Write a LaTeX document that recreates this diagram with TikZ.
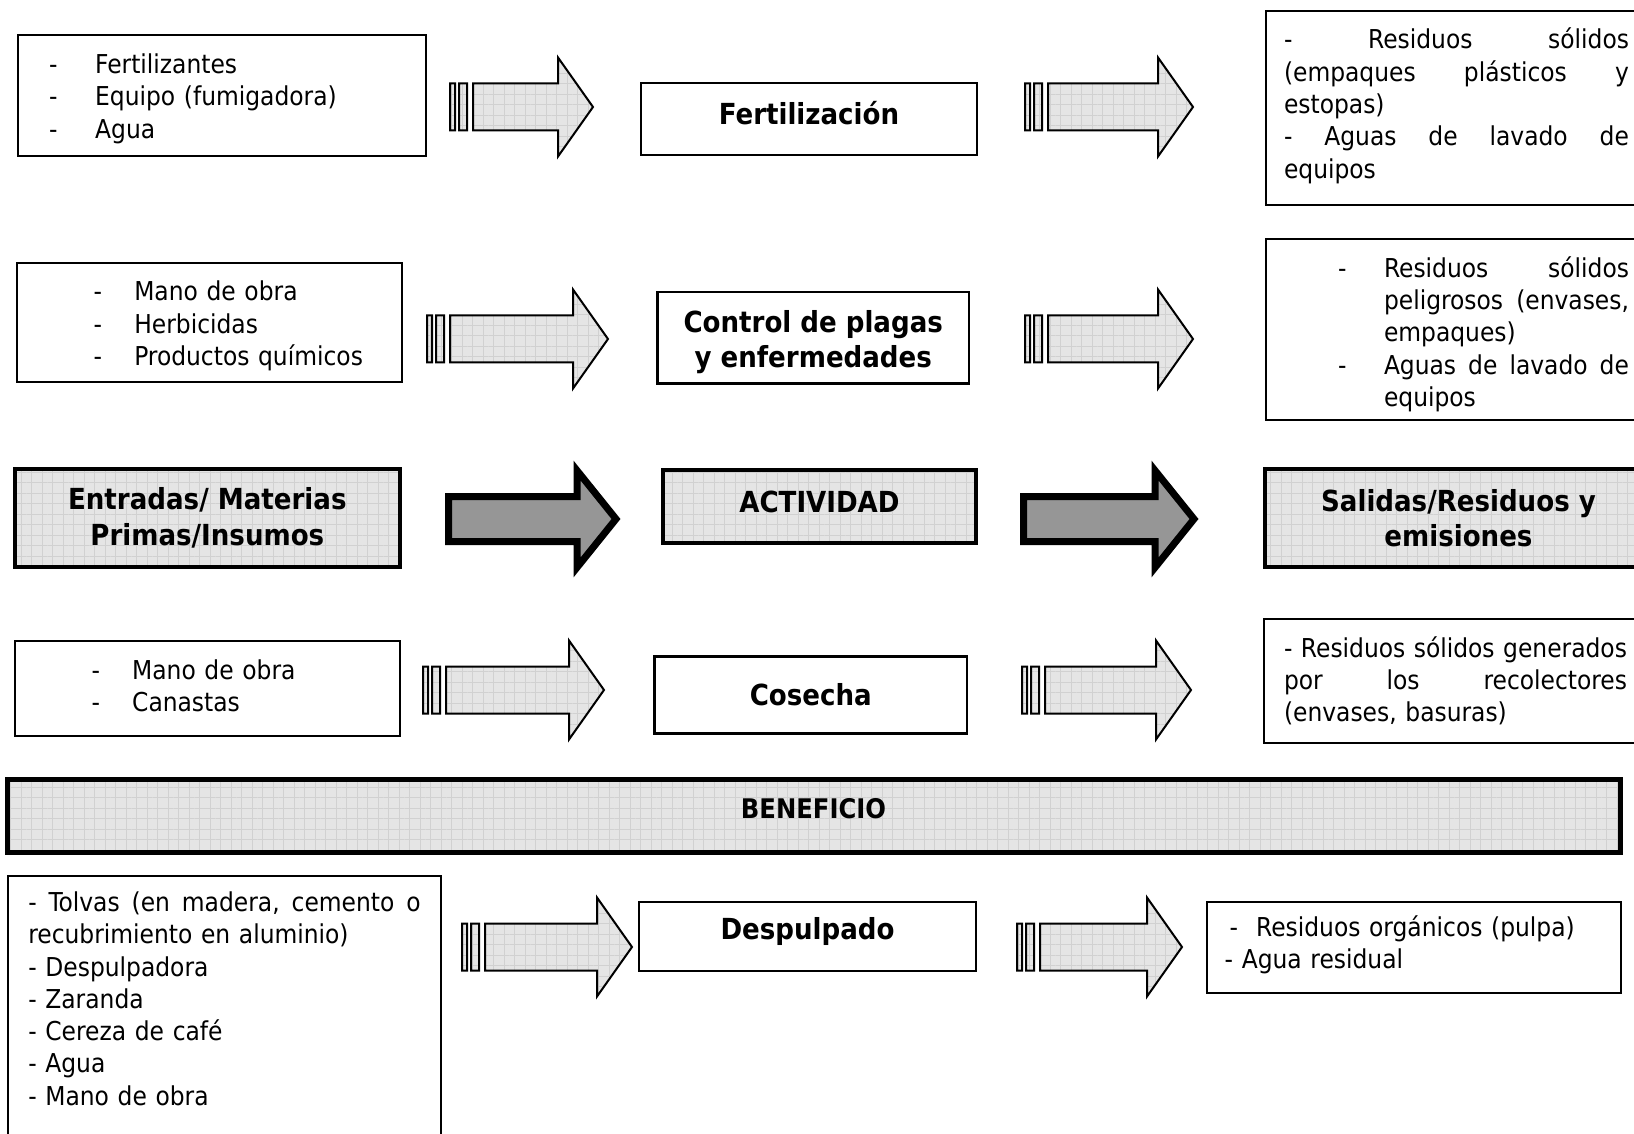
\documentclass[tikz,border=0pt]{standalone}
\usepackage{fontspec}
\setmainfont{DejaVu Sans Condensed}
\usetikzlibrary{patterns.meta}

\newcommand\itemdash[1][23pt]{\makebox[#1][l]{-}}
\newcommand\wordgap{\hspace{0.3em plus 1filll}}
% striped block arrow: left x, tip x, middle y
\newcommand\striparrow[3]{%
    \draw [stripearrow] (#1,#3-23.5) rectangle (#1+5,#3+23.5)
                        (#1+9,#3-23.5) rectangle (#1+17,#3+23.5)
                        (#1+23,#3-23.5) -- (#2-35,#3-23.5) -- (#2-35,#3-49.5) -- (#2,#3)
                        -- (#2-35,#3+49.5) -- (#2-35,#3+23.5) -- (#1+23,#3+23.5) -- cycle;}
% heavy block arrow of the header row
\newcommand\bigarrow[3]{%
    \draw [solidarrow] (#1,#3-22.5) -- (#2-39,#3-22.5) -- (#2-39,#3-48.5) -- (#2,#3)
                       -- (#2-39,#3+48.5) -- (#2-39,#3+22.5) -- (#1,#3+22.5) -- cycle;}

\tikzset{
    gridfill/.style = {preaction={fill=black!10},
                       pattern={Hatch[angle=0,distance=5.25pt,line width=0.5pt]},
                       pattern color=black!18},
    listbox/.style = {draw, line width=1pt, inner sep=0pt, align=left,
                      font=\fontsize{13}{16.15}\selectfont},
    actbox/.style = {draw, line width=1.2pt, align=center,
                     font=\bfseries\fontsize{14.5}{17.7}\selectfont},
    headbox/.style = {actbox, line width=2pt, gridfill},
    stripearrow/.style = {line width=1pt, gridfill},
    solidarrow/.style = {line width=3.5pt, fill=black!41, line join=miter}
}

\begin{document}
\begin{tikzpicture}[x=0.5pt, y=-0.5pt]
            \useasboundingbox (0,0) rectangle (1634,1134);
            \clip (0,0) rectangle (1634,1134);
        % Fertilizacion
            \node [listbox, minimum width=204pt, minimum height=60.5pt, text width=204pt] (in1) at (222,95.5)
                {\rule{0pt}{13pt}\hspace*{15.6pt}\itemdash Fertilizantes\\
                 \hspace*{15.6pt}\itemdash Equipo (fumigadora)\\
                 \hspace*{15.6pt}\itemdash Agua};
            \striparrow{450}{593}{107}
            \node [actbox, minimum width=168pt, minimum height=36pt, text depth=6.2pt] (act1) at (809,119) {Fertilización};
            \striparrow{1025}{1193}{107}
            \node [listbox, anchor=west, inner xsep=9pt, minimum height=96.75pt, text width=172.5pt] (out1) at (1265,108.25)
                {-\wordgap Residuos\wordgap sólidos\\
                 (empaques\wordgap plásticos\wordgap y\\
                 estopas)\\
                 -\wordgap Aguas\wordgap de\wordgap lavado\wordgap de\\
                 equipos\rule[-5.2pt]{0pt}{5.2pt}};
        % Control de plagas
            \node [listbox, minimum width=192.65pt, minimum height=59.9pt, text width=192.65pt] (in2) at (209.35,322.5)
                {\rule{0pt}{13.5pt}\hspace*{38.5pt}\itemdash[20.3pt]Mano de obra\\
                 \hspace*{38.5pt}\itemdash[20.3pt]Herbicidas\\
                 \hspace*{38.5pt}\itemdash[20.3pt]Productos químicos};
            \striparrow{427}{608}{339}
            \node [actbox, minimum width=155.75pt, minimum height=45.85pt] (act2) at (813.25,337.6)
                {\rule{0pt}{15.7pt}Control de plagas\\y enfermedades};
            \striparrow{1025}{1193}{339}
            \node [listbox, anchor=west, inner xsep=36pt, minimum height=90pt, text width=145.5pt] (out2) at (1265,329.5)
                {\rule{0pt}{15.1pt}\itemdash Residuos\wordgap sólidos\\
                 \hspace*{23pt}peligrosos\wordgap (envases,\\
                 \hspace*{23pt}empaques)\\
                 \itemdash Aguas\wordgap de\wordgap lavado\wordgap de\\
                 \hspace*{23pt}equipos};
        % headings
            \node [headbox, minimum width=192.7pt, minimum height=49pt] (in3) at (207.3,518)
                {Entradas/ Materias\\Primas/Insumos};
            \bigarrow{448.5}{616}{519}
            \node [headbox, minimum width=156.5pt, minimum height=36.5pt, text depth=5.2pt] (act3) at (819.5,506.5) {ACTIVIDAD};
            \bigarrow{1023.5}{1194}{519}
            \node [headbox, anchor=west, minimum width=193.5pt, minimum height=49pt] (out3) at (1263,518)
                {Salidas/Residuos y\\emisiones};
        % Cosecha
            \node [listbox, minimum width=192.7pt, minimum height=47.5pt, text width=192.7pt] (in4) at (207.3,688.5)
                {\hspace*{38.5pt}\itemdash[20.3pt]Mano de obra\\
                 \hspace*{38.5pt}\itemdash[20.3pt]Canastas\rule[-3.1pt]{0pt}{3.1pt}};
            \striparrow{423}{604}{690}
            \node [actbox, minimum width=156.25pt, minimum height=38.5pt] (act4) at (810.75,695) {Cosecha};
            \striparrow{1022}{1191}{690}
            \node [listbox, anchor=west, inner xsep=10pt, minimum height=62.15pt, text width=171.5pt] (out4) at (1263,681)
                {-\wordgap Residuos\wordgap sólidos\wordgap generados\\
                 por\wordgap los\wordgap recolectores\\
                 (envases, basuras)};
        % Beneficio
            \node [headbox, line width=2.5pt, minimum width=806.5pt, minimum height=36.5pt, text depth=7.3pt,
                   font=\bfseries\fontsize{13.5}{16}\selectfont] (ben) at (813.5,815.5) {BENEFICIO};
        % Despulpado
            \node [listbox, anchor=north west, inner xsep=10pt, inner ysep=7.85pt, text width=196.2pt] (in5) at (7.3,875)
                {-\wordgap Tolvas\wordgap (en\wordgap madera,\wordgap cemento\wordgap o\\
                 recubrimiento en aluminio)\\
                 - Despulpadora\\
                 - Zaranda\\
                 - Cereza de café\\
                 - Agua\\
                 - Mano de obra\\
                 \mbox{}\\
                 \mbox{}};
            \striparrow{462}{632}{947}
            \node [actbox, minimum width=168.5pt, minimum height=34.5pt, text depth=7.6pt] (act5) at (807.5,936.5) {Despulpado};
            \striparrow{1017}{1182}{947}
            \node [listbox, minimum width=207.15pt, minimum height=45.5pt, text width=207.15pt] (out5) at (1413.85,947.5)
                {\hspace*{11.5pt}-\hspace*{9pt}Residuos orgánicos (pulpa)\\
                 \hspace*{9pt}- Agua residual\rule[-5.7pt]{0pt}{5.7pt}};
        \end{tikzpicture}
\end{document}
